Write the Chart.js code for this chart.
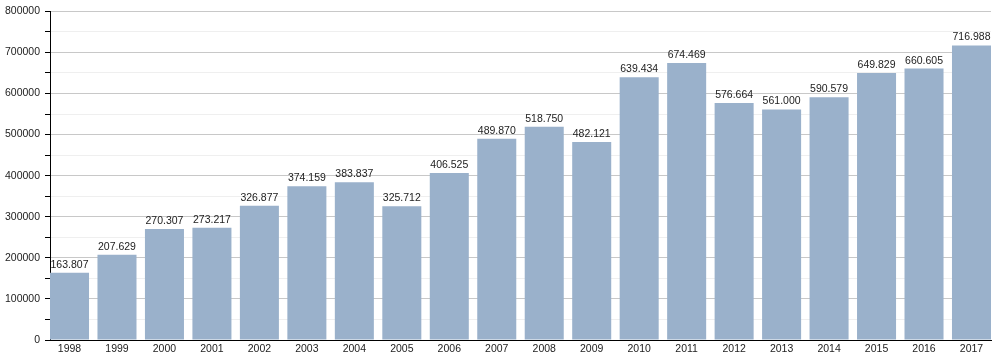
<!DOCTYPE html>
<html>
<head>
<meta charset="utf-8">
<script src="https://cdn.jsdelivr.net/npm/chart.js@4"></script>
<style>
  html, body { margin: 0; padding: 0; background: #fff; }
  #wrap { width: 1000px; height: 360px; }
</style>
</head>
<body>
<div id="wrap"><canvas id="chart"></canvas></div>
<script>
// years and values
const years = ['1998', '1999', '2000', '2001', '2002', '2003', '2004', '2005', '2006', '2007',
               '2008', '2009', '2010', '2011', '2012', '2013', '2014', '2015', '2016', '2017'];
const values = [163807, 207629, 270307, 273217, 326877, 374159, 383837, 325712, 406525, 489870,
                518750, 482121, 639434, 674469, 576664, 561000, 590579, 649829, 660605, 716988];

const BAR = 0.822; // bar width as a share of one year step
const FONT = '"Liberation Sans", Arial, sans-serif';
const fmt = v => v.toLocaleString('de-DE');

// labels above each bar
const valueLabels = {
    id: 'valueLabels',
    afterDatasetsDraw(chart) {
        const ctx = chart.ctx;
        const meta = chart.getDatasetMeta(0);
        ctx.save();
        ctx.font = '10.5px ' + FONT;
        ctx.fillStyle = '#222';
        ctx.textAlign = 'center';
        ctx.textBaseline = 'alphabetic';
        meta.data.forEach((bar, i) => {
            ctx.fillText(fmt(values[i]), bar.x, bar.y - 5);
        });
        ctx.restore();
    }
};

new Chart(document.getElementById('chart'), {
    type: 'bar',
    data: {
        datasets: [{
            data: values.map((v, i) => ({ x: i, y: v })),
            backgroundColor: '#9ab1cb',
            categoryPercentage: 1.0,
            barPercentage: BAR
        }]
    },
    options: {
        responsive: true,
        maintainAspectRatio: false,
        animation: false,
        layout: { padding: { top: 0, right: 9, left: 0, bottom: 0 } },
        plugins: { legend: { display: false }, tooltip: { enabled: false } },
        scales: {
            x: {
                type: 'linear',
                min: -BAR / 2,
                max: years.length - 1 + BAR / 2,
                offset: false,
                afterBuildTicks(scale) { scale.ticks = years.map((_, i) => ({ value: i })); },
                afterFit(scale) { scale.height = 20; },
                grid: { display: false, drawTicks: false },
                border: { color: '#000', width: 1 },
                ticks: {
                    color: '#222',
                    font: { family: FONT, size: 10.5 },
                    maxRotation: 0,
                    autoSkip: false,
                    padding: 3,
                    callback: v => years[v]
                }
            },
            y: {
                min: 0,
                max: 800000,
                afterFit(scale) { scale.width = 50; },
                border: { color: '#000', width: 1 },
                grid: {
                    color: c => (c.tick.value % 100000 === 0 ? '#c8c8c8' : '#efefef'),
                    tickColor: '#000',
                    tickLength: 5
                },
                ticks: {
                    stepSize: 50000,
                    color: '#222',
                    font: { family: FONT, size: 10.5 },
                    padding: 5,
                    callback: v => (v % 100000 === 0 ? String(v) : '')
                }
            }
        }
    },
    plugins: [valueLabels]
});
</script>
</body>
</html>
